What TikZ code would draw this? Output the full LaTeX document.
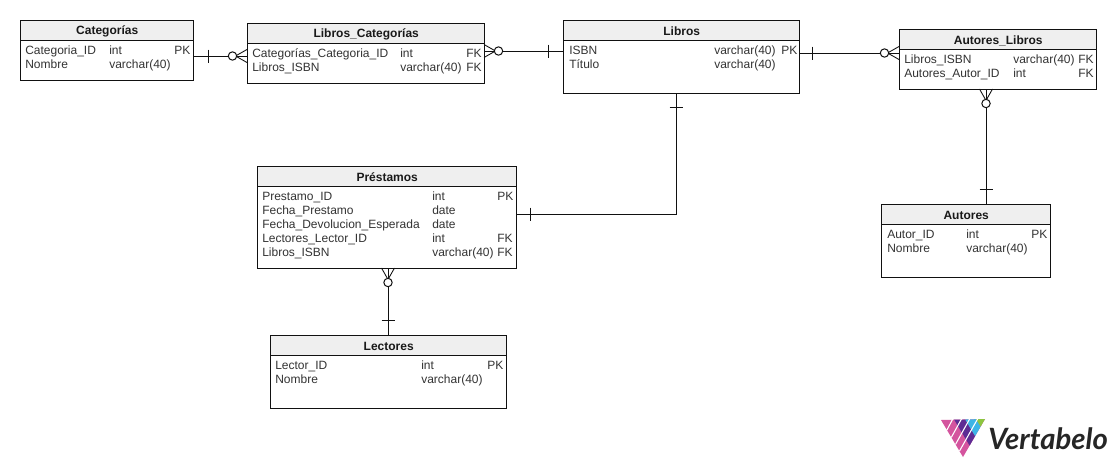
\documentclass[tikz,border=0pt]{standalone}
\usepackage{fontspec}
\setmainfont{Liberation Sans}
\newfontfamily\logofont{Lato}
\usetikzlibrary{calc}
\definecolor{headgray}{HTML}{EFEFEF}
\definecolor{lnk}{HTML}{111111}
\definecolor{vpink}{HTML}{D4549E}
\definecolor{vpurple}{HTML}{5E2C94}
\definecolor{vblue}{HTML}{3DB5E6}
\definecolor{vgreen}{HTML}{8CC63F}
\tikzset{
  x=0.75pt,y=-0.75pt,
  lnkline/.style={draw=lnk,line width=0.75pt},
  tbl/.style={draw=lnk,line width=0.75pt,fill=white,inner sep=0pt,outer sep=0pt},
  ttl/.style={font=\fontsize{9}{10}\selectfont\bfseries,text=black!90,inner sep=0pt,anchor=center},
  cell/.style={font=\fontsize{9}{10}\selectfont,text=black!80,inner sep=0pt,anchor=base west},
  pics/onebar/.style={code={\draw[lnkline] (0,-6.5) -- (0,6.5);}},
  pics/crow/.style={code={
    \draw[lnkline,line width=0.65pt] (0,-6.5) -- (11.5,0) -- (0,6.5);
    \draw[lnkline,fill=white] (14.5,0) circle (4.2);
  }}
}
% \etable{name}{x0}{y0}{x1}{y1}{title}
\newcommand{\etable}[6]{%
  \node[tbl,minimum width=#4 pt*0.75-#2 pt*0.75,minimum height=#5 pt*0.75-#3 pt*0.75,anchor=north west] (#1) at (#2,#3) {};
  \fill[headgray] (#2,#3) rectangle (#4,#3+20);
  \draw[lnkline] (#2,#3) rectangle (#4,#3+20);
  \node[ttl] (#1title) at ({(#2+#4)/2+0.7},#3+11.5) {#6};
}
\newcommand{\rowcell}[4]{\node[cell] (#1) at (#2,#3) {#4};}
\begin{document}
\begin{tikzpicture}
\useasboundingbox (0,0) rectangle (1116,468);
\fill[white] (0,0) rectangle (1116,468);

\etable{cat}{20}{20}{193}{80}{Categorías}
\rowcell{c1}{25}{54}{Categoria\_ID}\rowcell{c2}{109}{54}{int}\rowcell{c3}{174}{54}{PK}
\rowcell{c4}{25}{68}{Nombre}\rowcell{c5}{109}{68}{varchar(40)}

\etable{lc}{247}{23}{484}{83}{Libros\_Categorías}
\rowcell{d1}{252}{57}{Categorías\_Categoria\_ID}\rowcell{d2}{400}{57}{int}\rowcell{d3}{466}{57}{FK}
\rowcell{d4}{252}{71}{Libros\_ISBN}\rowcell{d5}{400}{71}{varchar(40)}\rowcell{d6}{466}{71}{FK}

\etable{lib}{563}{20}{799}{93}{Libros}
\rowcell{e1}{569}{54}{ISBN}\rowcell{e2}{714}{54}{varchar(40)}\rowcell{e3}{781}{54}{PK}
\rowcell{e4}{569}{68}{Título}\rowcell{e5}{714}{68}{varchar(40)}

\etable{al}{899}{29}{1096}{89}{Autores\_Libros}
\rowcell{f1}{904}{63}{Libros\_ISBN}\rowcell{f2}{1013}{63}{varchar(40)}\rowcell{f3}{1078}{63}{FK}
\rowcell{f4}{904}{77}{Autores\_Autor\_ID}\rowcell{f5}{1013}{77}{int}\rowcell{f6}{1078}{77}{FK}

\etable{pre}{257}{166}{516}{268}{Préstamos}
\rowcell{g1}{262}{200}{Prestamo\_ID}\rowcell{g2}{432}{200}{int}\rowcell{g3}{497}{200}{PK}
\rowcell{g4}{262}{214}{Fecha\_Prestamo}\rowcell{g5}{432}{214}{date}
\rowcell{g6}{262}{228}{Fecha\_Devolucion\_Esperada}\rowcell{g7}{432}{228}{date}
\rowcell{g8}{262}{242}{Lectores\_Lector\_ID}\rowcell{g9}{432}{242}{int}\rowcell{g10}{497}{242}{FK}
\rowcell{g11}{262}{256}{Libros\_ISBN}\rowcell{g12}{432}{256}{varchar(40)}\rowcell{g13}{497}{256}{FK}

\etable{lec}{270}{335}{506}{408}{Lectores}
\rowcell{h1}{275}{369}{Lector\_ID}\rowcell{h2}{421}{369}{int}\rowcell{h3}{487}{369}{PK}
\rowcell{h4}{275}{383}{Nombre}\rowcell{h5}{421}{383}{varchar(40)}

\etable{aut}{881}{204}{1050}{277}{Autores}
\rowcell{i1}{887}{238}{Autor\_ID}\rowcell{i2}{966}{238}{int}\rowcell{i3}{1031}{238}{PK}
\rowcell{i4}{887}{252}{Nombre}\rowcell{i5}{966}{252}{varchar(40)}

% connectors
\draw[lnkline] ($(cat.east)+(0,6)$) -- ($(lc.west)+(0,3)$);
\draw[lnkline] ($(lc.east)+(0,-2)$) -- ($(lib.west)+(0,-5.5)$);
\draw[lnkline] ($(lib.east)+(0,-3.5)$) -- ($(al.west)+(0,-6)$);
\draw[lnkline] ($(lib.south)+(-5,0)$) -- ($(lib.south)+(-5,121)$) -- ($(pre.east)+(0,-3)$);
\draw[lnkline] ($(al.south)+(-11.5,0)$) -- ($(aut.north)+(20.5,0)$);
\draw[lnkline] ($(pre.south)+(1.5,0)$) -- ($(lec.north)+(0,0)$);

% cardinality marks
\pic at (208,56) {onebar};
\pic at (247,56) [rotate=180] {crow};
\pic at (484,51) {crow};
\pic at (548,51) {onebar};
\pic at (812,53) {onebar};
\pic at (899,53) [rotate=180] {crow};
\pic at (986,89) [rotate=-90] {crow};
\pic at (986,189) [rotate=90] {onebar};
\pic at (676,107) [rotate=90] {onebar};
\pic at (530,214) {onebar};
\pic at (388,268) [rotate=-90] {crow};
\pic at (388,320) [rotate=90] {onebar};

% logo
\fill[vpink] (941,420) -- (985,419) -- (963,457) -- cycle;
\fill[vpurple] (954.2,419.7) -- (965.2,419.5) -- (975.1,436.1) -- (969.6,445.6) -- cycle;
\fill[vblue] (965.2,419.5) -- (976.2,419.2) -- (980.6,426.6) -- (975.1,436.1) -- cycle;
\fill[vgreen] (976.2,419.2) -- (985,419) -- (980.6,426.6) -- cycle;
\draw[white,line width=0.8pt] (952.9,418.7) -- (946.9,430)
  (961.7,418.5) -- (951.3,437.4)
  (970,418.3) -- (955.5,444.4)
  (978,418.2) -- (959.5,451);
\node[inner sep=0pt,anchor=base west,font=\logofont\fontsize{22}{24}\selectfont\bfseries\itshape,text=black!85] (logo) at (988,449) {Vertabelo};
\end{tikzpicture}
\end{document}
